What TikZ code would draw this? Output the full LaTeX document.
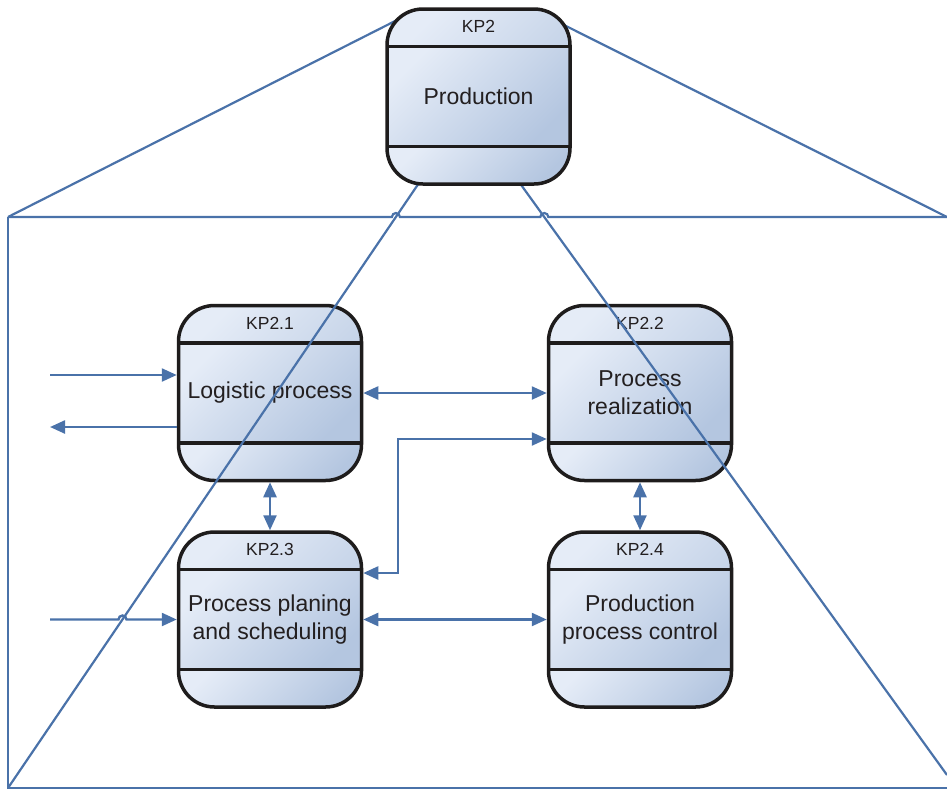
\documentclass[tikz,border=0pt]{standalone}
\usepackage{fontspec}
\setmainfont{Liberation Sans}
\usetikzlibrary{arrows.meta}
\definecolor{bl}{HTML}{4A72A9}
\definecolor{boxline}{HTML}{1E1C1C}
\definecolor{lite}{HTML}{E5ECF7}
\definecolor{dark}{HTML}{B4C6E0}
\definecolor{txt}{HTML}{231F20}
\begin{document}
\begin{tikzpicture}[x=1pt,y=-1pt,
  bandshade/.style={sharp corners, top color=lite, bottom color=dark, shading angle=45},
  kbox/.style={rectangle, rounded corners=36pt, minimum width=183pt, minimum height=175pt,
    inner sep=0pt, line width=3.5pt, draw=boxline,
    path picture={
      \shade[bandshade] (path picture bounding box.north west) rectangle ([yshift=-37.5pt]path picture bounding box.north east);
      \shade[bandshade] ([yshift=-37.5pt]path picture bounding box.north west) rectangle ([yshift=37.5pt]path picture bounding box.south east);
      \shade[bandshade] ([yshift=37.5pt]path picture bounding box.south west) rectangle (path picture bounding box.south east);
      \draw[sharp corners, draw=boxline, line width=3.5pt]
      ([yshift=-37.5pt]path picture bounding box.north west) -- ([yshift=-37.5pt]path picture bounding box.north east)
      ([yshift=37.5pt]path picture bounding box.south west) -- ([yshift=37.5pt]path picture bounding box.south east);}},
  ttl/.style={font=\fontsize{17.5}{21}\selectfont, text=txt, inner sep=0pt},
  lbl/.style={font=\fontsize{23}{28}\selectfont, text=txt, align=center, inner sep=0pt},
  bline/.style={draw=bl, line width=2.2pt},
  tip/.style={bline, line width=2.4pt, -{Triangle[length=15pt,width=13pt]}},
  dtip/.style={bline, line width=2.4pt, {Triangle[length=15pt,width=13pt]}-{Triangle[length=15pt,width=13pt]}},
]
\useasboundingbox (0,0) rectangle (947,790);

% lower boxes
\node[kbox] (kp21) at (270,393) {};
\node[ttl] (t21) at ([yshift=-19.5pt]kp21.north) {KP2.1};
\node[lbl] (l21) at (kp21.center) {Logistic process};

\node[kbox] (kp22) at (640,393) {};
\node[ttl] (t22) at ([yshift=-19.5pt]kp22.north) {KP2.2};
\node[lbl] (l22) at (kp22.center) {Process\\realization};

\node[kbox] (kp23) at (270,619.5) {};
\node[ttl] (t23) at ([yshift=-19.5pt]kp23.north) {KP2.3};
\node[lbl] (l23) at (kp23.center) {Process planing\\and scheduling};

\node[kbox] (kp24) at (640,619.5) {};
\node[ttl] (t24) at ([yshift=-19.5pt]kp24.north) {KP2.4};
\node[lbl] (l24) at (kp24.center) {Production\\process control};

% perspective frame
\coordinate (fTL) at (8,217);
\coordinate (fTR) at (947,217);
\coordinate (fBL) at (8,788);
\coordinate (fBR) at (947,788);
\coordinate (pTL) at (405,16);
\coordinate (pTR) at (558,22);
\coordinate (pBL) at (421,180);
\coordinate (pBR) at (519,182);
\coordinate (dBR) at (947,775);

\draw[bline] (fTL) -- (pTL);
\draw[bline] (pTR) -- (fTR);
\draw[bline] (pBL) -- (fBL);
\draw[bline] (pBR) -- (dBR);
\draw[bline] (fTL) -- (391.9,217) arc[start angle=180,end angle=360,radius=4]
  -- (540.3,217) arc[start angle=180,end angle=360,radius=4] -- (fTR);
\draw[bline] (fTL) -- (fBL) -- (fBR);

% flows
\coordinate (in1) at (50,375);
\coordinate (out1) at (50,427);
\coordinate (in3) at (50,619.5);
\draw[tip] (in1) -- (in1 -| kp21.west);
\draw[tip] (out1 -| kp21.west) -- (out1);
\draw[tip] (in3) -- (118.5,619.5) arc[start angle=180,end angle=360,radius=4] -- (in3 -| kp23.west);

\draw[dtip] (kp21.east) -- (kp22.west);
\draw[dtip] (kp21.south) -- (kp23.north);
\draw[dtip] (kp22.south) -- (kp24.north);
\draw[dtip] (kp23.east) -- (kp24.west);
\coordinate (e1) at (398,439);
\coordinate (e2) at (398,573);
\draw[dtip] (e1 -| kp22.west) -- (e1) -- (e2) -- (e2 -| kp23.east);

% top box
\node[kbox] (kp2) at (478.5,96.5) {};
\node[ttl] (t2) at ([yshift=-19.5pt]kp2.north) {KP2};
\node[lbl] (l2) at (kp2.center) {Production};
\end{tikzpicture}
\end{document}
